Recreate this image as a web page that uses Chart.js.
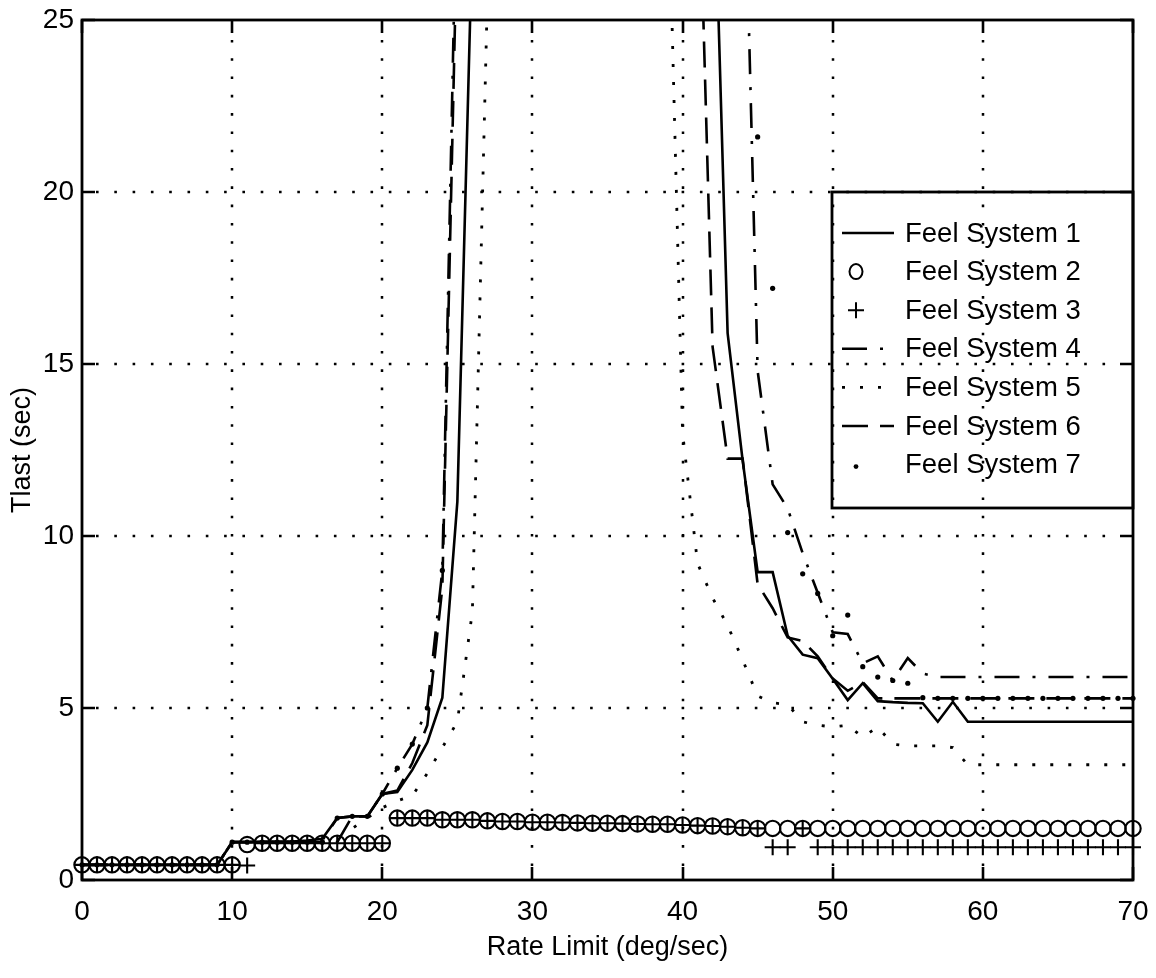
<!DOCTYPE html>
<html>
<head>
<meta charset="utf-8">
<title>Tlast vs Rate Limit</title>
<script src="https://cdn.jsdelivr.net/npm/chart.js@4.4.1/dist/chart.umd.min.js"></script>
<style>
  html, body { margin: 0; padding: 0; background: #fff; }
</style>
</head>
<body>
<canvas id="tlast" width="1156" height="978"></canvas>
<script>
// rate limit samples (deg/sec)
var rateLimit = [0,1,2,3,4,5,6,7,8,9,10,11,12,13,14,15,16,17,18,19,20,
  21,22,23,24,25,26,27,28,29,30,31,32,33,34,35,36,37,38,39,40,
  41,42,43,44,45,46,47,48,49,50,51,52,53,54,55,56,57,58,59,60,
  61,62,63,64,65,66,67,68,69,70];

// Tlast (sec) per feel system; null = off the top of the plot
var fs1 = [0.44,0.44,0.44,0.44,0.44,0.44,0.44,0.44,0.44,0.44,
  1.1,1.1,1.12,1.12,1.12,1.15,1.2,1.8,1.85,1.85,2.5,2.56,3.2,4.0,5.3,11.0,27.5,
  null,null,null,null,null,null,null,null,null,null,null,null,null,null,null,
  31,15.9,12.2,8.95,8.95,7.1,6.55,6.45,5.85,5.23,5.72,5.2,5.17,5.15,5.14,4.6,5.18,4.6,
  4.6,4.6,4.6,4.6,4.6,4.6,4.6,4.6,4.6,4.6,4.6];
var fs2 = [0.44,0.44,0.44,0.44,0.44,0.44,0.44,0.44,0.44,0.44,0.44,
  1.03,1.07,1.07,1.07,1.07,1.07,1.07,1.07,1.07,1.07,
  1.8,1.8,1.8,1.75,1.75,1.75,1.72,1.7,1.7,1.68,1.68,1.67,1.66,1.65,1.65,
  1.64,1.63,1.62,1.62,1.6,1.58,1.57,1.55,1.52,1.5,
  1.5,1.5,1.5,1.5,1.5,1.5,1.5,1.5,1.5,1.5,1.5,1.5,1.5,1.5,1.5,1.5,1.5,1.5,1.5,1.5,
  1.5,1.5,1.5,1.5,1.5];
var fs3 = [0.44,0.44,0.44,0.44,0.44,0.44,0.44,0.44,0.44,0.44,0.44,0.42,
  1.07,1.07,1.07,1.07,1.07,1.07,1.07,1.07,1.07,
  1.8,1.8,1.8,1.75,1.75,1.75,1.72,1.7,1.7,1.68,1.68,1.67,1.66,1.65,1.65,
  1.64,1.63,1.62,1.62,1.6,1.58,1.57,1.55,1.52,1.5,
  0.95,0.95,1.5,
  0.95,0.95,0.95,0.95,0.95,0.95,0.95,0.95,0.95,0.95,0.95,0.95,0.95,0.95,0.95,0.95,
  0.95,0.95,0.95,0.95,0.95,0.95];
var fs4 = [0.44,0.44,0.44,0.44,0.44,0.44,0.44,0.44,0.44,0.44,
  1.1,1.1,1.1,1.1,1.1,1.1,1.15,1.8,1.85,1.85,2.5,3.25,3.95,5.0,9.0,30,
  null,null,null,null,null,null,null,null,null,null,null,null,null,null,null,null,null,null,
  32,14.8,11.5,10.8,9.5,8.35,7.2,7.15,6.3,6.5,5.8,6.45,6.0,5.9,
  5.9,5.9,5.9,5.9,5.9,5.9,5.9,5.9,5.9,5.9,5.9,5.9,5.9];
var fs5 = [0.44,0.44,0.44,0.44,0.44,0.44,0.44,0.44,0.44,0.44,
  1.1,1.1,1.1,1.1,1.1,1.1,1.1,1.2,1.5,1.8,2.1,2.3,2.45,3.1,3.85,4.6,7.8,25.7,
  null,null,null,null,null,null,null,null,null,null,null,
  30,13,9.2,8.2,7.4,6.4,5.35,5.15,5.1,4.6,4.5,4.45,4.5,4.15,4.45,3.95,3.9,3.9,3.9,3.85,3.35,
  3.35,3.35,3.35,3.35,3.35,3.35,3.35,3.35,3.35,3.35,3.35];
var fs6 = [0.44,0.44,0.44,0.44,0.44,0.44,0.44,0.44,0.44,0.44,
  1.1,1.1,1.1,1.1,1.1,1.1,1.1,1.1,1.85,1.85,2.5,2.6,3.4,4.5,8.5,28,
  null,null,null,null,null,null,null,null,null,null,null,null,null,null,null,
  31,15.5,12.25,12.25,8.6,7.9,7.05,6.95,6.5,5.86,5.5,5.75,5.28,
  5.28,5.28,5.28,5.28,5.28,5.28,5.28,5.28,5.28,5.28,5.28,5.28,5.28,5.28,5.28,5.28,5.28];
var fs7 = [0.44,0.44,0.44,0.44,0.44,0.44,0.44,0.44,0.44,0.44,
  1.1,1.1,1.1,1.1,1.1,1.1,1.1,1.8,1.85,1.85,2.5,3.25,3.95,5.0,9.0,
  null,null,null,null,null,null,null,null,null,null,null,null,null,null,null,
  null,null,null,null,null,
  21.6,17.2,10.1,8.9,8.33,7.1,7.7,6.2,5.9,5.8,5.72,5.3,
  5.28,5.28,5.28,5.28,5.28,5.28,5.28,5.28,5.28,5.28,5.28,5.28,5.28,5.28];

var xTicks = [0, 10, 20, 30, 40, 50, 60, 70];
var yTicks = [0, 5, 10, 15, 20, 25];
var seriesNames = ['Feel System 1', 'Feel System 2', 'Feel System 3', 'Feel System 4',
  'Feel System 5', 'Feel System 6', 'Feel System 7'];

var FONT = '"Liberation Sans", Arial, Helvetica, sans-serif';
Chart.defaults.font.family = FONT;
Chart.defaults.font.size = 27;
Chart.defaults.color = '#000';

function pts(ys) {
  var out = [];
  for (var i = 0; i < rateLimit.length; i++) out.push({ x: rateLimit[i], y: ys[i] });
  return out;
}

function lineSet(label, ys, dash, width) {
  return {
    label: label, data: pts(ys), borderColor: '#000', borderWidth: width || 2.6,
    borderDash: dash, borderCapStyle: 'butt', pointRadius: 0, fill: false, tension: 0
  };
}

function markSet(label, ys, style, r, bw, fillCol) {
  return {
    label: label, data: pts(ys), showLine: false, pointStyle: style, pointRadius: r,
    pointBorderWidth: bw, pointBorderColor: '#000', pointBackgroundColor: fillCol,
    borderColor: '#000', clip: false
  };
}

var datasets = [
  lineSet(seriesNames[0], fs1, []),
  markSet(seriesNames[1], fs2, 'circle', 7.7, 2.1, 'rgba(0,0,0,0)'),
  markSet(seriesNames[2], fs3, 'cross', 8, 2.1, 'rgba(0,0,0,0)'),
  lineSet(seriesNames[3], fs4, [25, 13, 3, 13]),
  lineSet(seriesNames[4], fs5, [3, 15], 2.8),
  lineSet(seriesNames[5], fs6, [26, 12]),
  markSet(seriesNames[6], fs7, 'circle', 2.6, 0, '#000')
];

// drop the label overhang so the plot box keeps the layout padding
function noOverhang(s) {
  s.paddingLeft = 0; s.paddingRight = 0; s.paddingTop = 0; s.paddingBottom = 0;
}

// dotted grid, box with inward ticks, and the boxed legend
var frame = {
  id: 'frame',
  beforeDatasetsDraw: function (chart) {
    var ctx = chart.ctx, a = chart.chartArea, xs = chart.scales.x, ys = chart.scales.y;
    ctx.save();
    ctx.strokeStyle = '#000';
    ctx.lineWidth = 2.5;
    ctx.setLineDash([2.6, 15.7]);
    xTicks.forEach(function (v) {
      if (v === xs.min || v === xs.max) return;
      var px = Math.round(xs.getPixelForValue(v));
      ctx.beginPath(); ctx.moveTo(px, a.bottom - 14); ctx.lineTo(px, a.top + 14); ctx.stroke();
    });
    yTicks.forEach(function (v) {
      if (v === ys.min || v === ys.max) return;
      var py = Math.round(ys.getPixelForValue(v));
      ctx.beginPath(); ctx.moveTo(a.left + 14, py); ctx.lineTo(a.right - 14, py); ctx.stroke();
    });
    ctx.restore();
  },
  afterDatasetsDraw: function (chart) {
    var ctx = chart.ctx, a = chart.chartArea, xs = chart.scales.x, ys = chart.scales.y;
    var tl = 13;
    ctx.save();
    ctx.strokeStyle = '#000';
    ctx.setLineDash([]);
    ctx.lineWidth = 2.6;
    xTicks.forEach(function (v) {
      var px = Math.round(xs.getPixelForValue(v));
      ctx.beginPath();
      ctx.moveTo(px, a.bottom); ctx.lineTo(px, a.bottom - tl);
      ctx.moveTo(px, a.top); ctx.lineTo(px, a.top + tl);
      ctx.stroke();
    });
    yTicks.forEach(function (v) {
      var py = Math.round(ys.getPixelForValue(v));
      ctx.beginPath();
      ctx.moveTo(a.left, py); ctx.lineTo(a.left + tl, py);
      ctx.moveTo(a.right, py); ctx.lineTo(a.right - tl, py);
      ctx.stroke();
    });
    ctx.lineWidth = 2.8;
    ctx.strokeRect(a.left, a.top, a.right - a.left, a.bottom - a.top);

    // legend
    var lx = 832, ly = 192, lw = a.right - lx, lh = 316;
    ctx.strokeRect(lx, ly, lw, lh);
    ctx.font = '27.5px ' + FONT;
    ctx.fillStyle = '#000';
    ctx.textBaseline = 'middle';
    ctx.textAlign = 'left';
    chart.data.datasets.forEach(function (ds, i) {
      var cy = 233 + i * 38.6;
      ctx.save();
      if (ds.showLine === false) {
        var cx = 856;
        ctx.setLineDash([]);
        if (ds.pointStyle === 'cross') {
          ctx.lineWidth = 2;
          ctx.beginPath();
          ctx.moveTo(cx - 8, cy); ctx.lineTo(cx + 8, cy);
          ctx.moveTo(cx, cy - 8); ctx.lineTo(cx, cy + 8);
          ctx.stroke();
        } else if (ds.pointRadius > 4) {
          ctx.lineWidth = 2;
          ctx.beginPath(); ctx.ellipse(cx, cy, 6.5, 7.5, 0, 0, Math.PI * 2); ctx.stroke();
        } else {
          ctx.beginPath(); ctx.arc(cx, cy + 2, 2.4, 0, Math.PI * 2); ctx.fill();
        }
      } else {
        ctx.lineWidth = ds.borderWidth;
        ctx.setLineDash(ds.borderDash);
        ctx.beginPath(); ctx.moveTo(842, cy); ctx.lineTo(894, cy); ctx.stroke();
      }
      ctx.restore();
      ctx.fillText(ds.label, 905, cy + 1);
    });
    ctx.restore();
  }
};

new Chart(document.getElementById('tlast').getContext('2d'), {
  type: 'line',
  data: { datasets: datasets },
  options: {
    responsive: false,
    animation: false,
    events: [],
    layout: { padding: { left: 0, right: 23, top: 20, bottom: 0 } },
    plugins: { legend: { display: false }, tooltip: { enabled: false } },
    scales: {
      x: {
        type: 'linear', min: 0, max: 70,
        afterBuildTicks: function (s) { s.ticks = xTicks.map(function (v) { return { value: v }; }); },
        afterFit: function (s) { s.height = 98; noOverhang(s); },
        ticks: { autoSkip: false, maxRotation: 0, padding: 15, color: '#000', font: { size: 28 } },
        grid: { display: false, drawTicks: false },
        border: { display: false },
        title: { display: true, text: 'Rate Limit (deg/sec)', color: '#000', padding: { top: 0, bottom: 14 } }
      },
      y: {
        type: 'linear', min: 0, max: 25,
        afterBuildTicks: function (s) { s.ticks = yTicks.map(function (v) { return { value: v }; }); },
        afterFit: function (s) { s.width = 82; noOverhang(s); },
        ticks: { padding: 8, color: '#000', font: { size: 28 } },
        grid: { display: false, drawTicks: false },
        border: { display: false },
        title: { display: true, text: 'Tlast (sec)', color: '#000', padding: { top: 6, bottom: 0 } }
      }
    }
  },
  plugins: [frame]
});
</script>
</body>
</html>
